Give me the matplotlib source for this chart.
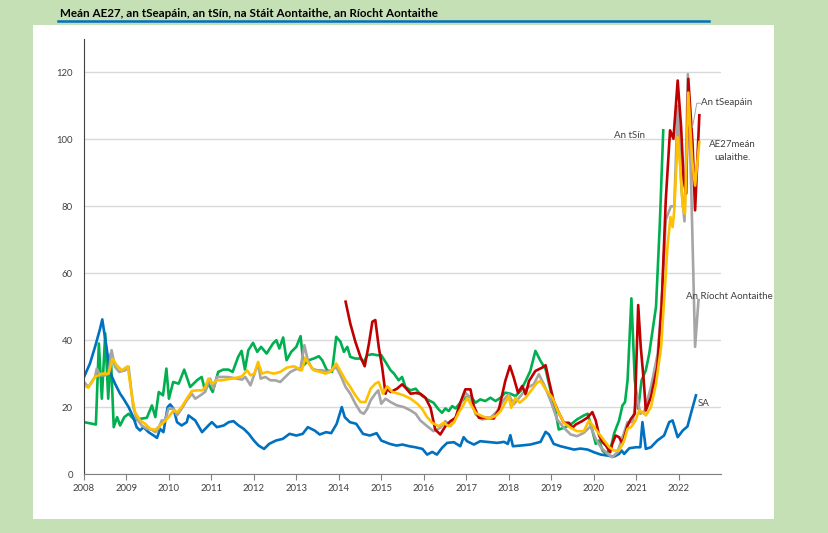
import matplotlib.pyplot as plt
from matplotlib.lines import Line2D
from matplotlib.patches import Rectangle

# (year, value) pairs
sa = [(2008.0, 29), (2008.14, 33), (2008.26, 38), (2008.38, 43.5), (2008.43, 46.2), (2008.54, 37),
      (2008.61, 30.5), (2008.73, 27), (2008.85, 24), (2008.93, 22.5), (2009.05, 20), (2009.16, 17),
      (2009.24, 14), (2009.32, 13), (2009.4, 14), (2009.52, 12.5), (2009.64, 11.5), (2009.72, 10.8),
      (2009.79, 13.5), (2009.87, 12.5), (2009.97, 20), (2010.03, 20.8), (2010.11, 19.5), (2010.19, 15.5),
      (2010.3, 14.5), (2010.42, 15.5), (2010.46, 17.5), (2010.62, 16), (2010.78, 12.5), (2010.93, 14.5),
      (2011.01, 15.5), (2011.13, 14), (2011.29, 14.5), (2011.41, 15.5), (2011.52, 15.8), (2011.64, 14.5),
      (2011.76, 13.5), (2011.88, 12), (2012.0, 10), (2012.11, 8.5), (2012.24, 7.5), (2012.36, 9),
      (2012.52, 10), (2012.68, 10.5), (2012.84, 12), (2013.0, 11.5), (2013.15, 12), (2013.27, 14),
      (2013.43, 13), (2013.55, 11.8), (2013.7, 12.5), (2013.82, 12.2), (2013.95, 15), (2014.07, 20),
      (2014.14, 17), (2014.26, 15.5), (2014.41, 15), (2014.57, 12), (2014.73, 11.5), (2014.89, 12.2),
      (2015.0, 10), (2015.2, 9), (2015.36, 8.5), (2015.5, 8.8), (2015.66, 8.3), (2015.8, 8), (2015.97, 7.5),
      (2016.08, 5.8), (2016.2, 6.6), (2016.31, 5.8), (2016.43, 7.8), (2016.55, 9.3), (2016.71, 9.5),
      (2016.86, 8.3), (2016.94, 11), (2017.02, 9.8), (2017.18, 8.8), (2017.33, 9.8), (2017.49, 9.6),
      (2017.73, 9.3), (2017.89, 9.6), (2017.98, 9), (2018.04, 11.6), (2018.1, 8.3), (2018.28, 8.5),
      (2018.51, 8.8), (2018.75, 9.6), (2018.87, 12.6), (2018.95, 11.8), (2019.06, 9), (2019.22, 8.3),
      (2019.38, 7.8), (2019.54, 7.3), (2019.69, 7.6), (2019.86, 7.3), (2020.01, 6.5), (2020.17, 5.8),
      (2020.33, 5.5), (2020.48, 5.2), (2020.6, 6), (2020.66, 7), (2020.72, 6), (2020.84, 7.7), (2021.0, 8),
      (2021.1, 8), (2021.15, 15.5), (2021.23, 7.5), (2021.35, 8), (2021.5, 10), (2021.66, 11.5),
      (2021.78, 15.5), (2021.86, 16), (2021.98, 11), (2022.1, 13), (2022.21, 14.2), (2022.29, 18),
      (2022.41, 23.5)]

china = [(2008.0, 15.5), (2008.28, 14.8), (2008.35, 39), (2008.42, 22.5), (2008.5, 42), (2008.57, 22.5),
         (2008.63, 36), (2008.7, 14), (2008.78, 17), (2008.85, 14.5), (2008.95, 17), (2009.05, 18),
         (2009.2, 16), (2009.33, 16.5), (2009.48, 16.8), (2009.6, 20.5), (2009.68, 17), (2009.76, 24.5),
         (2009.86, 23.5), (2009.94, 31.5), (2010.0, 22.5), (2010.1, 27.5), (2010.23, 27), (2010.36, 31.2),
         (2010.5, 26), (2010.66, 28), (2010.77, 29), (2010.85, 25), (2010.93, 27), (2011.03, 24.5),
         (2011.16, 30.5), (2011.28, 31.2), (2011.4, 31.2), (2011.5, 30.5), (2011.63, 35), (2011.71, 36.8),
         (2011.79, 31.2), (2011.87, 37), (2011.98, 39.2), (2012.08, 36.5), (2012.17, 38), (2012.3, 36),
         (2012.45, 39), (2012.53, 40), (2012.6, 37.5), (2012.69, 40.8), (2012.77, 34), (2012.88, 36.5),
         (2013.0, 38), (2013.1, 41.2), (2013.17, 32.5), (2013.29, 34), (2013.41, 34.5), (2013.53, 35.2),
         (2013.61, 34), (2013.72, 31), (2013.84, 30.5), (2013.94, 41), (2014.04, 39.5), (2014.12, 36.5),
         (2014.2, 38), (2014.27, 35), (2014.39, 34.5), (2014.51, 34.5), (2014.59, 33.5), (2014.67, 35.5),
         (2014.79, 35.8), (2014.9, 35.5), (2015.0, 35.5), (2015.1, 33.5), (2015.22, 31), (2015.3, 30),
         (2015.41, 28), (2015.49, 29), (2015.57, 26), (2015.69, 25), (2015.81, 25.5), (2015.92, 23.8),
         (2016.08, 22.3), (2016.23, 21.3), (2016.35, 19.3), (2016.43, 18.3), (2016.51, 19.6), (2016.59, 18.8),
         (2016.67, 20.3), (2016.75, 19.6), (2016.86, 21.3), (2016.98, 22.8), (2017.1, 23.3), (2017.22, 21.3),
         (2017.33, 22.3), (2017.45, 21.8), (2017.57, 22.8), (2017.69, 21.8), (2017.81, 22.8), (2017.92, 24.3),
         (2018.04, 24), (2018.16, 23.3), (2018.28, 24.8), (2018.4, 27.8), (2018.51, 30.8), (2018.63, 36.8),
         (2018.75, 33.8), (2018.87, 31.3), (2018.99, 24.8), (2019.1, 18.8), (2019.18, 13.3), (2019.3, 13.8),
         (2019.46, 14.8), (2019.61, 16.3), (2019.77, 17.5), (2019.86, 18), (2019.93, 15), (2020.05, 9),
         (2020.13, 10), (2020.21, 7), (2020.29, 6), (2020.41, 8), (2020.48, 12), (2020.6, 16), (2020.68, 20.5),
         (2020.74, 21.5), (2020.8, 28), (2020.89, 52.5), (2020.97, 28), (2021.05, 19.5), (2021.13, 28),
         (2021.23, 31), (2021.31, 36), (2021.47, 50), (2021.56, 75), (2021.64, 102.7)]

japan = [(2014.16, 51.5), (2014.27, 45), (2014.39, 39.5), (2014.51, 35), (2014.61, 32.2), (2014.71, 39),
         (2014.79, 45.5), (2014.86, 46), (2014.94, 38), (2015.02, 32), (2015.1, 24), (2015.14, 25.5),
         (2015.22, 24.5), (2015.37, 25.5), (2015.49, 26.8), (2015.57, 25.8), (2015.69, 24), (2015.81, 24.2),
         (2015.92, 24), (2016.04, 22.8), (2016.16, 19.8), (2016.27, 13.3), (2016.39, 11.8), (2016.51, 14.3),
         (2016.63, 15.8), (2016.75, 16.8), (2016.86, 21.3), (2016.98, 25.3), (2017.1, 25.3), (2017.18, 20.3),
         (2017.3, 16.8), (2017.45, 16.8), (2017.65, 16.6), (2017.77, 19.3), (2017.92, 27.8), (2018.03, 32.3),
         (2018.12, 28.8), (2018.22, 24.3), (2018.32, 26.3), (2018.4, 23.8), (2018.48, 27.8), (2018.63, 30.8),
         (2018.79, 31.8), (2018.87, 32.5), (2018.95, 27.8), (2019.06, 21.8), (2019.18, 18.3), (2019.3, 15.3),
         (2019.42, 15.3), (2019.5, 13.8), (2019.58, 14.8), (2019.73, 15.8), (2019.85, 16.8), (2019.97, 18.5),
         (2020.05, 16), (2020.13, 11.5), (2020.21, 9.5), (2020.29, 8.5), (2020.39, 6.5), (2020.44, 9),
         (2020.52, 11.5), (2020.6, 11), (2020.68, 9), (2020.8, 14.5), (2020.88, 16.5), (2020.97, 18),
         (2021.05, 50.5), (2021.11, 38), (2021.18, 28), (2021.23, 19), (2021.35, 23), (2021.5, 32),
         (2021.6, 50), (2021.7, 82), (2021.8, 102.7), (2021.88, 100.2), (2021.98, 117.6), (2022.06, 103.8),
         (2022.12, 87.8), (2022.18, 83.8), (2022.23, 118.1), (2022.33, 98.7), (2022.39, 78.8), (2022.49, 107.2)]

uk = [(2008.0, 27.5), (2008.1, 26), (2008.26, 29), (2008.3, 31.5), (2008.38, 29.5), (2008.5, 29.5),
      (2008.58, 30), (2008.65, 37), (2008.73, 32), (2008.83, 30.5), (2008.97, 31), (2009.05, 32),
      (2009.16, 20), (2009.24, 16.5), (2009.36, 14.5), (2009.48, 13.5), (2009.6, 13.2), (2009.68, 12.5),
      (2009.75, 13.5), (2009.83, 16), (2009.91, 16), (2009.99, 19.5), (2010.11, 19.5), (2010.19, 17.5),
      (2010.3, 19.5), (2010.42, 22), (2010.54, 24), (2010.62, 22.5), (2010.74, 23.5), (2010.85, 24.5),
      (2010.97, 28.5), (2011.05, 25.5), (2011.13, 29), (2011.25, 29), (2011.37, 29), (2011.48, 28.8),
      (2011.6, 28.5), (2011.72, 28.2), (2011.8, 29), (2011.92, 26.5), (2012.1, 33), (2012.16, 28.5),
      (2012.27, 29), (2012.39, 28), (2012.5, 28), (2012.62, 27.5), (2012.74, 29), (2012.86, 30.5),
      (2013.02, 31.5), (2013.09, 31), (2013.19, 38.5), (2013.27, 34), (2013.37, 31.5), (2013.49, 31),
      (2013.61, 31), (2013.72, 30.5), (2013.84, 31), (2013.94, 32), (2014.04, 29.5), (2014.16, 26),
      (2014.27, 24), (2014.39, 21), (2014.51, 18.5), (2014.59, 18), (2014.67, 19.5), (2014.75, 22),
      (2014.86, 24), (2014.93, 25), (2015.0, 21), (2015.1, 22.5), (2015.22, 21.5), (2015.37, 20.5),
      (2015.53, 20), (2015.69, 19), (2015.81, 18), (2015.92, 16), (2016.08, 14.3), (2016.23, 12.8),
      (2016.39, 13.8), (2016.51, 15.8), (2016.63, 14.3), (2016.75, 16.8), (2016.86, 20.8), (2016.98, 24.3),
      (2017.1, 22.8), (2017.22, 17.8), (2017.37, 16.3), (2017.57, 16.8), (2017.73, 18.8), (2017.89, 22.3),
      (2018.0, 23.8), (2018.12, 20.8), (2018.28, 23.3), (2018.44, 25.8), (2018.59, 26.8), (2018.71, 29.8),
      (2018.83, 26.8), (2018.99, 21.8), (2019.14, 16.3), (2019.3, 13.8), (2019.46, 11.8), (2019.61, 11.3),
      (2019.77, 12.3), (2019.93, 14.3), (2020.05, 10.5), (2020.17, 8), (2020.33, 6), (2020.44, 5),
      (2020.56, 6.5), (2020.68, 11), (2020.8, 15.5), (2020.92, 15.5), (2021.02, 23.5), (2021.1, 18),
      (2021.19, 18.5), (2021.35, 26), (2021.51, 36), (2021.62, 55), (2021.7, 76), (2021.82, 80),
      (2021.9, 80), (2021.98, 110), (2022.07, 85), (2022.14, 75.5), (2022.22, 119.5), (2022.3, 85),
      (2022.39, 38), (2022.47, 52)]

eu27 = [(2008.0, 26.5), (2008.1, 25.8), (2008.26, 29), (2008.42, 30), (2008.58, 30), (2008.67, 34.5),
        (2008.77, 32.5), (2008.89, 31), (2009.03, 32.2), (2009.12, 24), (2009.2, 18.5), (2009.32, 16),
        (2009.44, 15), (2009.56, 13.5), (2009.68, 13.2), (2009.79, 14.5), (2009.91, 15.8), (2009.99, 17),
        (2010.11, 19), (2010.2, 18.5), (2010.3, 20), (2010.42, 22.5), (2010.54, 24.8), (2010.66, 25),
        (2010.78, 25), (2010.85, 25.8), (2010.93, 28.5), (2011.03, 27), (2011.13, 28), (2011.25, 28),
        (2011.37, 28.3), (2011.48, 28.5), (2011.6, 28.8), (2011.72, 29.2), (2011.84, 31), (2011.92, 29.5),
        (2012.01, 30), (2012.1, 33.5), (2012.19, 30), (2012.31, 30.5), (2012.47, 30), (2012.62, 30.5),
        (2012.78, 31.8), (2012.94, 32.2), (2013.06, 31.5), (2013.13, 31), (2013.21, 34.8), (2013.29, 33),
        (2013.41, 31), (2013.57, 30.5), (2013.68, 30), (2013.8, 30.5), (2013.94, 33), (2014.05, 30.5),
        (2014.16, 28), (2014.27, 26), (2014.39, 23.5), (2014.51, 21.5), (2014.63, 21.5), (2014.75, 25.5),
        (2014.86, 27), (2014.94, 27.5), (2015.04, 24), (2015.14, 26.2), (2015.26, 24.5), (2015.41, 24),
        (2015.53, 23.5), (2015.69, 22.5), (2015.85, 21), (2015.96, 19.5), (2016.08, 17), (2016.2, 15.3),
        (2016.35, 14.3), (2016.47, 15.3), (2016.59, 14.3), (2016.71, 15.3), (2016.82, 18.3), (2016.92, 20.3),
        (2017.02, 22.8), (2017.11, 20.8), (2017.22, 18.3), (2017.37, 17.3), (2017.53, 16.6), (2017.69, 17.3),
        (2017.81, 18.8), (2017.92, 21.3), (2018.0, 23.3), (2018.06, 19.8), (2018.16, 22.8), (2018.26, 21.3),
        (2018.4, 22.8), (2018.55, 25.3), (2018.67, 27.3), (2018.75, 27.8), (2018.87, 25.3), (2019.03, 22.8),
        (2019.14, 19.3), (2019.3, 15.3), (2019.46, 13.8), (2019.61, 12.8), (2019.77, 12.8), (2019.89, 16),
        (2020.01, 14), (2020.13, 12), (2020.25, 10), (2020.37, 8), (2020.48, 7), (2020.6, 7), (2020.72, 10),
        (2020.8, 13.5), (2020.88, 14), (2020.99, 16), (2021.07, 19), (2021.15, 18.5), (2021.23, 17.5),
        (2021.35, 20), (2021.47, 27), (2021.59, 38), (2021.66, 52), (2021.74, 68), (2021.81, 76.8),
        (2021.86, 73.8), (2021.9, 78.8), (2021.98, 100.7), (2022.04, 91.7), (2022.1, 79.8), (2022.15, 77.8),
        (2022.23, 114), (2022.32, 93.7), (2022.39, 86.2), (2022.49, 99.2)]

years = list(range(2008, 2023))
title = "Meán AE27, an tSeapáin, an tSín, na Stáit Aontaithe, an Ríocht Aontaithe"

FONT = ['Lato', 'DejaVu Sans']
GREEN_BG = '#c5e0b4'

fig = plt.figure(figsize=(8.29, 5.33), dpi=100, facecolor=GREEN_BG)
fig.add_artist(Rectangle((33 / 829, 14 / 533), 741 / 829, 494 / 533, transform=fig.transFigure,
                         facecolor='white', edgecolor='none', zorder=-1))
fig.text(60 / 829, 1 - 13.5 / 533, title, fontsize=8.4, fontweight='bold', family=FONT,
         va='center', ha='left', color='black')
fig.add_artist(Line2D([58 / 829, 709 / 829], [1 - 21 / 533] * 2, color='#0070c0', lw=1.8,
                      transform=fig.transFigure))

ax = fig.add_axes([84 / 829, 59 / 533, 637 / 829, 435 / 533])
ax.set_facecolor('white')


def draw(series, color):
    xs = [p[0] for p in series]
    ys = [p[1] for p in series]
    ax.plot(xs, ys, color=color, lw=1.9, solid_joinstyle='round')


draw(china, '#00b050')
draw(sa, '#0070c0')
draw(uk, '#a5a5a5')
draw(japan, '#c00000')
draw(eu27, '#ffc000')

ax.set_xlim(2008, 2023)
ax.set_ylim(0, 130)
ax.set_yticks(range(0, 121, 20))
ax.set_xticks(years)
ax.grid(axis='y', color='#d9d9d9', lw=1)
ax.set_axisbelow(True)
for s in ['top', 'right']:
    ax.spines[s].set_visible(False)
ax.spines['left'].set_color('#404040')
ax.spines['bottom'].set_color('#808080')
ax.tick_params(axis='y', length=0, pad=8, labelsize=6.8, labelcolor='#404040')
ax.tick_params(axis='x', length=4, color='#808080', labelsize=6.8, labelcolor='#404040')
for lab in ax.get_xticklabels() + ax.get_yticklabels():
    lab.set_family(FONT)

lbl = dict(fontsize=7, family=FONT, color='#404040', va='center')
ax.text(2021.21, 101.2, "An tSín", ha='right', **lbl)
ax.text(2022.54, 111, "An tSeapáin", ha='left', clip_on=False, **lbl)
ax.plot([2022.52, 2022.43, 2022.33], [110.8, 110.8, 103.7], color='#a5a5a5', lw=0.7)
ax.text(2023.26, 96.6, "AE27meán\nualaithe.", ha='center', clip_on=False, linespacing=1.5, **lbl)
ax.text(2022.17, 53.1, "An Ríocht Aontaithe", ha='left', clip_on=False, **lbl)
ax.text(2022.46, 21.1, "SA", ha='left', **lbl)

fig.savefig('out.png', dpi=100, facecolor=GREEN_BG)
